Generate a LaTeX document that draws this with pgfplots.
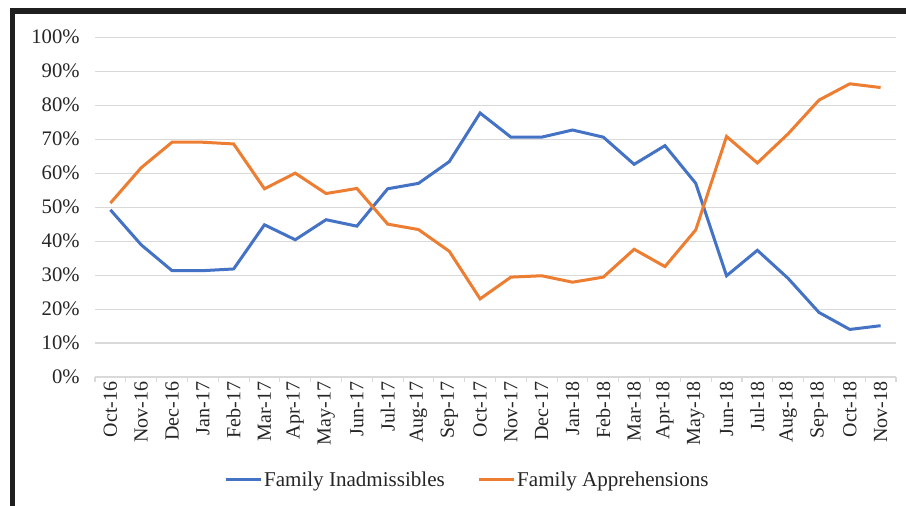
\documentclass[border=0pt]{standalone}
\usepackage{fontspec}
\setmainfont{Liberation Serif}
\usepackage{pgfplots}
\pgfplotsset{compat=1.18}

\definecolor{inadm}{HTML}{4472C4}
\definecolor{appr}{HTML}{ED7D31}
\definecolor{gridc}{HTML}{D9D9D9}
\definecolor{labc}{HTML}{262626}

\begin{document}
% one pixel of the reference = 0.75pt
\begin{tikzpicture}[font=\fontsize{15pt}{18pt}\selectfont]
\path[use as bounding box, clip] (0pt,0pt) rectangle (679.5pt,379.5pt);
\fill[white] (0pt,0pt) rectangle (679.5pt,379.5pt);

% dark frame round the screenshot
\fill[black!88] (7.5pt,0pt) rectangle (11.25pt,373.5pt);
\fill[black!88] (7.5pt,369pt) rectangle (679.5pt,373.5pt);

\begin{axis}[
    at={(71.25pt,96.75pt)}, anchor=south west,
    scale only axis, width=600.75pt, height=254.8pt,
    xmin=-0.5, xmax=25.5, ymin=0, ymax=100,
    axis x line*=bottom, axis y line*=left,
    separate axis lines,
    x axis line style={gridc, line width=0.8pt},
    y axis line style={draw=none},
    xtick={0,...,25},
    xticklabels={Oct-16,Nov-16,Dec-16,Jan-17,Feb-17,Mar-17,Apr-17,May-17,Jun-17,Jul-17,Aug-17,Sep-17,Oct-17,Nov-17,Dec-17,Jan-18,Feb-18,Mar-18,Apr-18,May-18,Jun-18,Jul-18,Aug-18,Sep-18,Oct-18,Nov-18},
    x tick label style={rotate=90, anchor=east, text=labc},
    minor xtick={-0.5,0.5,...,25.5},
    xtick align=outside,
    major tick length=0pt, minor tick length=3.5pt,
    minor x tick style={gridc, line width=0.8pt},
    major tick style={draw=none},
    ytick={0,10,...,100},
    yticklabels={0\%,10\%,20\%,30\%,40\%,50\%,60\%,70\%,80\%,90\%,100\%},
    y tick label style={text=labc, xshift=-8pt, font=\fontsize{15.5pt}{18pt}\selectfont},
    ymajorgrids, grid style={gridc, line width=0.8pt},
    legend columns=2,
    legend style={at={(0.465,-0.303)}, anchor=center, draw=none, fill=none,
        text=labc, font=\fontsize{15.8pt}{18pt}\selectfont,
        nodes={inner xsep=1.5pt},
        /tikz/every even column/.append style={column sep=23pt}},
    legend image code/.code={\draw[#1] (0pt,0pt) -- (26pt,0pt);},
]
\addplot[inadm, line width=2.25pt] coordinates {
    (0,49.2) (1,38.9) (2,31.3) (3,31.3) (4,31.8) (5,44.8) (6,40.4) (7,46.3)
    (8,44.4) (9,55.4) (10,57.0) (11,63.4) (12,77.7) (13,70.6) (14,70.6) (15,72.7)
    (16,70.6) (17,62.6) (18,68.1) (19,57.0) (20,29.8) (21,37.3) (22,29.0) (23,19.0)
    (24,14.0) (25,15.1)
};
\addlegendentry{Family Inadmissibles}
\addplot[appr, line width=2.25pt] coordinates {
    (0,51.2) (1,61.6) (2,69.1) (3,69.1) (4,68.6) (5,55.4) (6,60.0) (7,54.0)
    (8,55.5) (9,45.0) (10,43.4) (11,37.0) (12,23.0) (13,29.4) (14,29.8) (15,27.9)
    (16,29.4) (17,37.6) (18,32.5) (19,43.3) (20,70.8) (21,63.0) (22,71.6) (23,81.5)
    (24,86.3) (25,85.2)
};
\addlegendentry{Family Apprehensions}
\end{axis}
\end{tikzpicture}
\end{document}
